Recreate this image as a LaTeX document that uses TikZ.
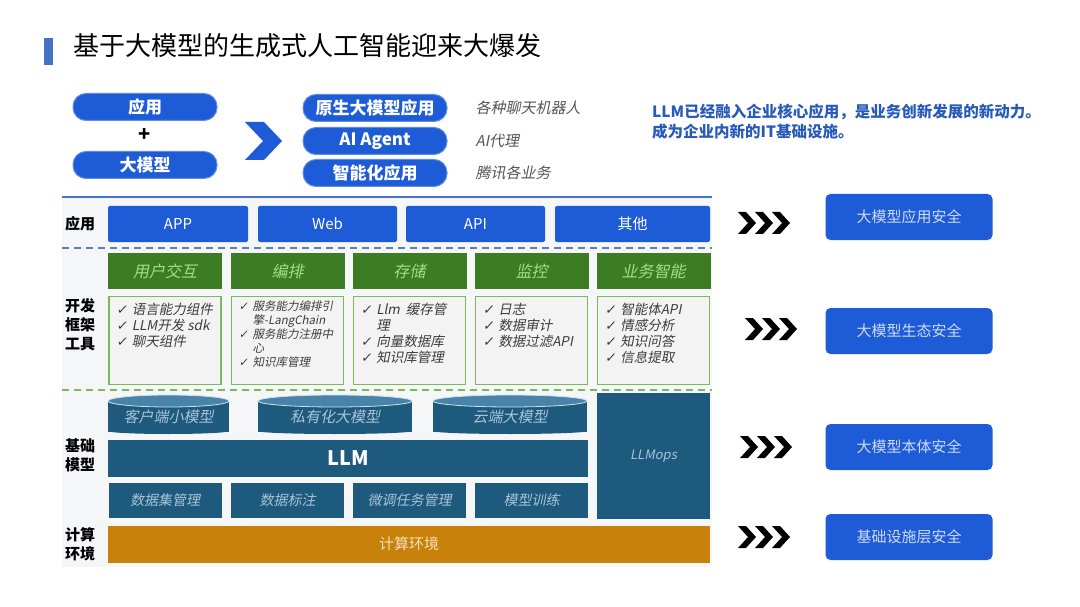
\documentclass[tikz,border=0pt]{standalone}
\usepackage{fontspec}
\setmainfont{Noto Sans CJK SC}
\newfontfamily\slantfont[FakeSlant=0.2]{Noto Sans CJK SC}
\newfontfamily\symfont[FakeSlant=0.15]{DejaVu Sans}
\usetikzlibrary{positioning}

\definecolor{mainblue}{RGB}{30,91,214}
\definecolor{pilledge}{RGB}{95,140,228}
\definecolor{barblue}{RGB}{68,114,196}
\definecolor{lineblue}{RGB}{70,115,200}
\definecolor{dashblue}{RGB}{95,125,190}
\definecolor{notegray}{RGB}{85,85,85}
\definecolor{noteblue}{RGB}{40,90,185}
\definecolor{panelgray}{RGB}{245,246,248}
\definecolor{headgreen}{RGB}{60,125,36}
\definecolor{headink}{RGB}{165,220,140}
\definecolor{boxgreen}{RGB}{125,185,92}
\definecolor{itemgray}{RGB}{243,243,243}
\definecolor{itemink}{RGB}{60,60,60}
\definecolor{modelteal}{RGB}{29,90,125}
\definecolor{modeltop}{RGB}{72,132,170}
\definecolor{modelink}{RGB}{170,196,214}
\definecolor{computeorange}{RGB}{200,130,12}
\definecolor{computeink}{RGB}{245,225,185}
\definecolor{secureink}{RGB}{205,220,248}

\newcommand{\chk}{{\symfont ✓}\hspace{4pt}}

\begin{document}
\begin{tikzpicture}[x=1pt,y=-1pt,
  pill/.style={fill=mainblue,draw=pilledge,line width=1pt,rounded corners=13pt,text=white,
    font=\bfseries\fontsize{17}{20}\selectfont,minimum width=144pt,minimum height=27pt,inner sep=0pt},
  hint/.style={text=notegray,font=\slantfont\fontsize{15}{18}\selectfont,inner sep=0pt},
  layername/.style={font=\bfseries\fontsize{15}{19}\selectfont,align=center,inner sep=0pt},
  appbox/.style={fill=mainblue,rounded corners=2pt,text=white,font=\fontsize{15}{18}\selectfont,
    minimum height=36pt,inner sep=0pt},
  grouphead/.style={fill=headgreen,text=headink,font=\slantfont\fontsize{16}{19}\selectfont,
    minimum width=114pt,minimum height=36pt,inner sep=0pt},
  itembox/.style={fill=itemgray,draw=boxgreen,line width=1.5pt,minimum width=112pt,
    minimum height=88pt,inner sep=0pt},
  itemlist/.style={anchor=north west,align=left,text=itemink,inner sep=0pt,
    font=\slantfont\fontsize{13.5}{16}\selectfont},
  modelbox/.style={fill=modelteal,text=modelink,font=\slantfont\fontsize{15}{18}\selectfont,inner sep=0pt},
  securebox/.style={fill=mainblue,rounded corners=5pt,text=secureink,
    font=\fontsize{15}{18}\selectfont,minimum width=167pt,minimum height=46pt}]
\useasboundingbox[fill=white] (0,0) rectangle (1080,607);

% title
\fill[barblue] (44,38) rectangle (53,65);
\node[anchor=west,font=\fontsize{26}{30}\selectfont,inner sep=0pt] (title) at (73,46) {基于大模型的生成式人工智能迎来大爆发};

% app + model => new apps
\node[pill] (apps) at (145,107) {应用};
\node[pill,below=30pt of apps] (llmpill) {大模型};
\node[font=\bfseries\fontsize{20}{20}\selectfont,inner sep=0pt] (plus) at (145,135) {+};
\fill[mainblue] (245,122) -- (264,122) -- (282,141) -- (264,160) -- (245,160) -- (263,141) -- cycle;
\node[pill] (native) at (375,108) {原生大模型应用};
\node[pill] (agent) at (375,141) {AI Agent};
\node[pill] (smart) at (375,173) {智能化应用};
\node[hint,right=28pt of native] (chatbot) {各种聊天机器人};
\node[hint,right=28pt of agent] (proxy) {AI代理};
\node[hint,right=28pt of smart] (tencent) {腾讯各业务};
\node[anchor=north west,align=left,text=noteblue,inner sep=0pt,
  font=\bfseries\fontsize{15.5}{20}\selectfont] (claim) at (652,104)
  {LLM已经融入企业核心应用，是业务创新发展的新动力。\\成为企业内新的IT基础设施。};

% stack
\draw[lineblue,line width=2pt] (62,197) -- (712,197);
\fill[panelgray] (62,198) rectangle (712,567);
\node[layername] (lapp) at (80,224) {应用};
\node[layername] (ldev) at (80,325) {开发\\框架\\工具};
\node[layername] (lbase) at (80,455) {基础\\模型};
\node[layername] (lcomp) at (80,544) {计算\\环境};

\node[appbox,minimum width=140pt] (appapp) at (178,224) {APP};
\node[appbox,minimum width=139pt] (appweb) at (327.5,224) {Web};
\node[appbox,minimum width=139pt] (appapi) at (475.5,224) {API};
\node[appbox,minimum width=155pt] (appother) at (632.5,224) {其他};
\draw[dashblue,line width=1.5pt,dash pattern=on 7pt off 5pt] (62,248) -- (712,248);

\foreach \name/\cx/\txt in {ux/165/用户交互,orch/287.5/编排,store/409.5/存储,mon/531.5/监控,biz/653.5/业务智能} {
  \node[grouphead] (\name-head) at (\cx,271) {\txt};
  \node[itembox] (\name-box) at (\cx,340.5) {};
}
\node[itemlist] (ux-list) at ([shift={(8pt,-7pt)}]ux-box.north west)
  {\chk 语言能力组件\\\chk LLM开发 sdk\\\chk 聊天组件};
\node[itemlist,font=\slantfont\fontsize{11.5}{14}\selectfont] (orch-list) at ([shift={(8pt,-5pt)}]orch-box.north west)
  {\chk 服务能力编排引\\\hphantom{\chk}擎-LangChain\\\chk 服务能力注册中\\\hphantom{\chk}心\\\chk 知识库管理};
\node[itemlist] (store-list) at ([shift={(8pt,-7pt)}]store-box.north west)
  {\chk Llm\ \ 缓存管\\\hphantom{\chk}理\\\chk 向量数据库\\\chk 知识库管理};
\node[itemlist] (mon-list) at ([shift={(8pt,-7pt)}]mon-box.north west)
  {\chk 日志\\\chk 数据审计\\\chk 数据过滤API};
\node[itemlist] (biz-list) at ([shift={(8pt,-7pt)}]biz-box.north west)
  {\chk 智能体API\\\chk 情感分析\\\chk 知识问答\\\chk 信息提取};
\draw[boxgreen,line width=1.5pt,dash pattern=on 7pt off 5pt] (62,390) -- (712,390);

% models
\foreach \name/\cx/\r/\txt in {client/168.5/60.5/客户端小模型,private/335/77/私有化大模型,cloud/510/77/云端大模型} {
  \fill[modelteal] (\cx,431) ellipse (\r pt and 3pt);
  \node[modelbox,minimum width=2*\r pt,minimum height=30pt] (\name) at (\cx,417) {\txt};
  \fill[modeltop,draw=white!75!modeltop,line width=0.8pt] (\cx,401) ellipse (\r pt and 6pt);
}
\node[modelbox,minimum width=480pt,minimum height=37pt,text=white,
  font=\bfseries\fontsize{20}{24}\selectfont] (llm) at (348,458.5) {LLM};
\foreach \name/\cx/\txt in {dataset/165/数据集管理,annot/287.5/数据标注,tune/409.5/微调任务管理,train/531.5/模型训练}
  \node[modelbox,minimum width=113pt,minimum height=35pt,
    font=\slantfont\fontsize{14}{17}\selectfont] (\name) at (\cx,500.5) {\txt};
\node[modelbox,minimum width=113pt,minimum height=126pt,
  font=\slantfont\fontsize{13}{16}\selectfont] (llmops) at (653.5,456) {LLMops};
\node[fill=computeorange,text=computeink,minimum width=602pt,minimum height=37pt,inner sep=0pt,
  font=\fontsize{15}{18}\selectfont] (compute) at (409,544) {计算环境};

% security
\foreach \cx/\cy in {738/223,745/329,740/447,738/537}
  \foreach \k in {0,1,2}
    \fill (\cx+17*\k,\cy-11) -- ++(8,0) -- ++(10,11) -- ++(-10,11) -- ++(-8,0) -- ++(10,-11) -- cycle;
\node[securebox] (sapp) at (909,217) {大模型应用安全};
\node[securebox] (seco) at (909,331) {大模型生态安全};
\node[securebox] (sbody) at (909,447) {大模型本体安全};
\node[securebox] (sinfra) at (909,537) {基础设施层安全};
\end{tikzpicture}
\end{document}
